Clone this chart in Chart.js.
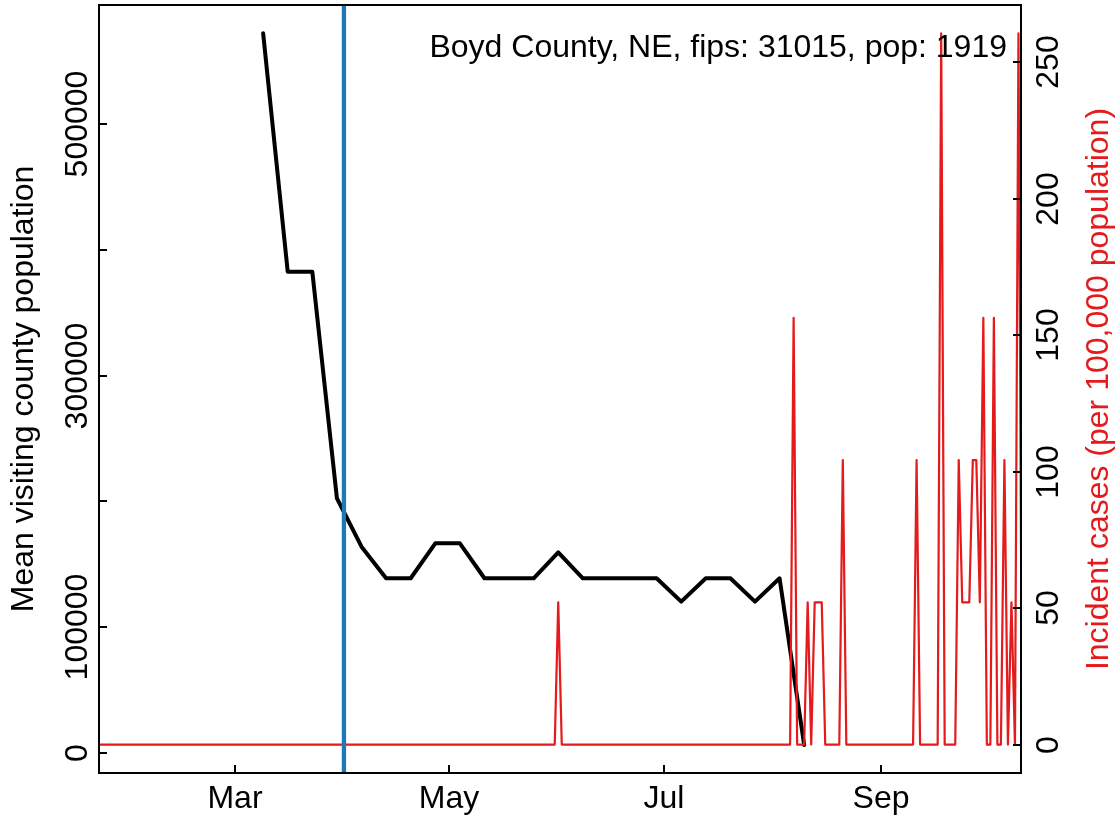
<!DOCTYPE html>
<html><head><meta charset="utf-8">
<script src="https://cdn.jsdelivr.net/npm/chart.js@4.4.1/dist/chart.umd.min.js"></script>
<style>html,body{margin:0;padding:0;background:#fff;overflow:hidden}canvas{display:block}</style>
</head><body>
<canvas id="c" width="1119" height="817"></canvas>
<script>
// Days are day-of-year 2020 (Jan 1 = 1, Mar 1 = 61)
const mobilityDays = [69,76,83,90,97,104,111,118,125,132,139,146,153,160,167,174,181,188,195,202,209,216,223];
const mobilityValues = [572100,382600,382600,202500,164000,138900,138900,166700,166700,138900,138900,138900,159500,138900,138900,138900,138900,120300,138900,138900,120300,138900,6360];

// Incident cases per 100,000 population (days not listed are 0)
const caseFirstDay = 22;
const caseLastDay = 285;
const caseDays  = [153,220,224,226,227,228,234,255,262,267,268,269,270,271,272,273,274,277,280,282,284];
const caseRates = [52.11,156.33,52.11,52.11,52.11,52.11,104.22,104.22,260.55,104.22,52.11,52.11,52.11,104.22,104.22,52.11,156.33,156.33,104.22,52.11,260.55];

const interventionDay = 92; // Apr 1

const xTickDays = [61,122,183,245];
const xTickLabels = ['Mar','May','Jul','Sep'];
const leftTickValues = [0,100000,200000,300000,400000,500000];
const leftTickLabels = ['0','100000','','300000','','500000'];
const rightTickValues = [0,50,100,150,200,250];
const rightTickLabels = ['0','50','100','150','200','250'];

const annotationText = 'Boyd County, NE, fips: 31015, pop: 1919';
const leftTitle = 'Mean visiting county population';
const rightTitle = 'Incident cases (per 100,000 population)';

const X_MIN = 22.28, X_MAX = 284.72;
const Y_MIN = -15900, Y_MAX = 594600;
const Y2_MIN = -10.42, Y2_MAX = 270.97;

const RED = '#E41A1C', BLUE = '#1F78B4';
const FONT = '32px "Liberation Sans", Arial, Helvetica, sans-serif';

const mobilityPts = mobilityDays.map((d, i) => ({x: d, y: mobilityValues[i]}));
const casePts = [];
for (let d = caseFirstDay; d <= caseLastDay; d++) {
  const k = caseDays.indexOf(d);
  casePts.push({x: d, y: k >= 0 ? caseRates[k] : 0});
}
const bluePts = [{x: interventionDay, y: Y_MIN}, {x: interventionDay, y: Y_MAX}];

const frame = {
  id: 'frame',
  afterDatasetsDraw(chart) {
    const {ctx, chartArea: a, scales} = chart;
    const T = 8;
    ctx.save();
    ctx.strokeStyle = '#000';
    ctx.lineWidth = 2;
    ctx.lineCap = 'butt';
    ctx.strokeRect(a.left, a.top, a.right - a.left, a.bottom - a.top);
    ctx.font = FONT;
    ctx.fillStyle = '#000';
    ctx.textBaseline = 'alphabetic';
    ctx.textAlign = 'center';
    // x axis
    scales.x.ticks.forEach((t) => {
      const px = Math.round(scales.x.getPixelForValue(t.value));
      ctx.beginPath(); ctx.moveTo(px, a.bottom); ctx.lineTo(px, a.bottom - T); ctx.stroke();
      ctx.fillText(xTickLabels[xTickDays.indexOf(t.value)], px, 808);
    });
    // left axis
    scales.y.ticks.forEach((t) => {
      const py = Math.round(scales.y.getPixelForValue(t.value));
      ctx.beginPath(); ctx.moveTo(a.left, py); ctx.lineTo(a.left + T, py); ctx.stroke();
      const lab = leftTickLabels[leftTickValues.indexOf(t.value)];
      if (lab) {
        ctx.save(); ctx.translate(87, py); ctx.rotate(-Math.PI / 2);
        ctx.fillText(lab, 0, 0); ctx.restore();
      }
    });
    // right axis
    scales.y2.ticks.forEach((t) => {
      const py = Math.round(scales.y2.getPixelForValue(t.value));
      ctx.beginPath(); ctx.moveTo(a.right, py); ctx.lineTo(a.right - T, py); ctx.stroke();
      const lab = rightTickLabels[rightTickValues.indexOf(t.value)];
      ctx.save(); ctx.translate(1058, py); ctx.rotate(-Math.PI / 2);
      ctx.fillText(lab, 0, 0); ctx.restore();
    });
    const cy = (a.top + a.bottom) / 2;
    ctx.save(); ctx.translate(33, cy); ctx.rotate(-Math.PI / 2);
    ctx.fillText(leftTitle, 0, 0); ctx.restore();
    ctx.save(); ctx.fillStyle = RED; ctx.translate(1108, cy); ctx.rotate(-Math.PI / 2);
    ctx.fillText(rightTitle, 0, 0); ctx.restore();
    ctx.textAlign = 'right';
    ctx.fillText(annotationText, 1007, 57);
    ctx.restore();
  }
};

const hidden = {ticks: {display: false}, grid: {display: false}, border: {display: false}, title: {display: false}};

new Chart(document.getElementById('c'), {
  type: 'line',
  data: {
    datasets: [
      {label: 'intervention', data: bluePts, yAxisID: 'y', borderColor: BLUE, borderWidth: 4.3, pointRadius: 0, clip: 0},
      {label: 'cases', data: casePts, yAxisID: 'y2', borderColor: RED, borderWidth: 2.2, pointRadius: 0, clip: 0,
       borderJoinStyle: 'round', borderCapStyle: 'round'},
      {label: 'mobility', data: mobilityPts, yAxisID: 'y', borderColor: '#000', borderWidth: 4, pointRadius: 0, clip: 0,
       borderJoinStyle: 'round', borderCapStyle: 'round'}
    ]
  },
  options: {
    responsive: false,
    devicePixelRatio: 1,
    animation: false,
    events: [],
    layout: {padding: {top: 5, left: 0, right: 0, bottom: 0}},
    plugins: {legend: {display: false}, tooltip: {enabled: false}},
    scales: {
      x: Object.assign({type: 'linear', position: 'bottom', min: X_MIN, max: X_MAX,
        afterBuildTicks: s => { s.ticks = xTickDays.map(v => ({value: v})); },
        afterFit: s => { s.height = 44; }}, hidden),
      y: Object.assign({type: 'linear', position: 'left', min: Y_MIN, max: Y_MAX,
        afterBuildTicks: s => { s.ticks = leftTickValues.map(v => ({value: v})); },
        afterFit: s => { s.width = 99; }}, hidden),
      y2: Object.assign({type: 'linear', position: 'right', min: Y2_MIN, max: Y2_MAX,
        afterBuildTicks: s => { s.ticks = rightTickValues.map(v => ({value: v})); },
        afterFit: s => { s.width = 98; }}, hidden)
    }
  },
  plugins: [frame]
});
</script>
</body></html>
